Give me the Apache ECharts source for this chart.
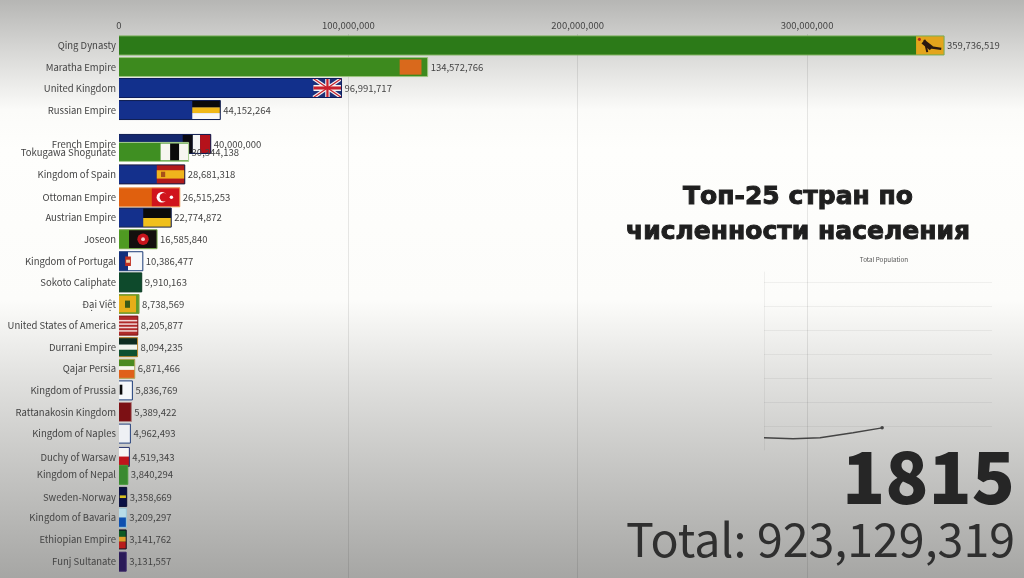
<!DOCTYPE html>
<html><head><meta charset="utf-8">
<style>html,body{margin:0;padding:0;background:#fff}#c{width:1024px;height:578px;filter:blur(0.6px)}</style>
<script src="https://cdn.jsdelivr.net/npm/echarts@6/dist/echarts.min.js"></script>
</head><body><div id="c"></div>
<script>
const names=["French Empire","Qing Dynasty","Maratha Empire","United Kingdom","Russian Empire","Tokugawa Shogunate","Kingdom of Spain","Ottoman Empire","Austrian Empire","Joseon","Kingdom of Portugal","Sokoto Caliphate","Đại Việt","United States of America","Durrani Empire","Qajar Persia","Kingdom of Prussia","Rattanakosin Kingdom","Kingdom of Naples","Duchy of Warsaw","Kingdom of Nepal","Sweden-Norway","Kingdom of Bavaria","Ethiopian Empire","Funj Sultanate"];
const populations=[40000000,359736519,134572766,96991717,44152264,30344138,28681318,26515253,22774872,16585840,10386477,9910163,8738569,8205877,8094235,6871466,5836769,5389422,4962493,4519343,3840294,3358669,3209297,3141762,3131557];
const ranks=[5.59,1.03,2.03,3,4.02,5.96,7,8.06,9,10,11.02,12,13,14,15,16,17,18,19,20.08,20.91,21.93,22.9,23.9,24.93];
const historyYears=[1600,1653,1702,1762,1815];
const historyTotals=[512000000,470000000,508000000,721000000,923129319];
const axisTicks={bar:100000000,history:1000000000};
const yearText="1815", totalText="Total: 923,129,319";

// Bar fill, outline and a simple flag per entry (r = rect, c = circle, l = line, unit coords in the flag box)
const looks={
"French Empire":["#14286e","#0e1c50",[["r","#0a0a12",0,0,.36,1],["r","#f4f4f4",.36,0,.62,1],["r","#b5121b",.62,0,1,1]]],
"Qing Dynasty":["#2c7a18","#78ad58",[["r","#e3a51c",0,0,1,1],["l","#2a1a10",.25,.3,.55,.65,5],["l","#2a1a10",.5,.6,.9,.68,2.5],["l","#2a1a10",.3,.2,.4,.85,2],["c","#b3261a",.12,.18,.08]]],
"Maratha Empire":["#3d8a1e","#9cc57e",[["r","#d9691c",0,.1,.78,.9]]],
"United Kingdom":["#12308c","#0c1c5c",[["r","#1c2f78",0,0,1,1],["l","#f2f2f2",0,0,1,1,3.5],["l","#f2f2f2",0,1,1,0,3.5],["r","#f2f2f2",.42,0,.58,1],["r","#f2f2f2",0,.34,1,.66],["l","#c8202c",0,0,1,1,1.2],["l","#c8202c",0,1,1,0,1.2],["r","#c8202c",.46,0,.54,1],["r","#c8202c",0,.42,1,.58]]],
"Russian Empire":["#14308c","#0e1c50",[["r","#0a0a0a",0,0,1,.36],["r","#f0b818",0,.36,1,.66],["r","#f8f8f8",0,.66,1,1]]],
"Tokugawa Shogunate":["#3f8f22","#a8d090",[["r","#f6f6f0",0,.06,1,.94],["r","#0a0a0a",.34,.06,.66,.94]]],
"Kingdom of Spain":["#14308c","#1c1c40",[["r","#b21a1a",0,0,1,1],["r","#f0b41c",0,.28,1,.72],["r","#a8501a",.15,.36,.3,.64]]],
"Ottoman Empire":["#e0600e","#f0a060",[["r","#d0141c",0,0,1,1],["c","#ffffff",.36,.5,.28],["c","#d0141c",.43,.5,.22],["c","#ffffff",.7,.5,.09]]],
"Austrian Empire":["#14308c","#1c2850",[["r","#0a0a0a",0,0,1,.52],["r","#f0c01c",0,.52,1,1]]],
"Joseon":["#4f9a22","#7caa50",[["r","#14100e",0,.02,1,.98],["c","#c8141c",.5,.5,.3],["c","#f4d0d0",.5,.5,.1]]],
"Kingdom of Portugal":["#f6f8fa","#1c3c78",[["r","#12307c",0,0,.38,1],["r","#f6f8fa",.38,0,1,1],["r","#c03020",.26,.25,.5,.75],["r","#f0d0a0",.3,.42,.46,.58]]],
"Sokoto Caliphate":["#0e4a2c","#0a3a22",[]],
"Đại Việt":["#5f9a2a","#7fa040",[["r","#e6ae18",0,.06,.85,.94],["r","#3a5a18",.3,.32,.55,.7]]],
"United States of America":["#b02a2a","#7c1818",[["r","#b02a2a",0,0,1,1],["r","#f0d8d8",0,.2,1,.28],["r","#f0d8d8",0,.38,1,.46],["r","#f0d8d8",0,.56,1,.64],["r","#f0d8d8",0,.74,1,.82]]],
"Durrani Empire":["#0c3a28","#c08a30",[["r","#0c2c20",0,0,1,.36],["r","#f0f4ee",0,.36,1,.64],["r","#0e5030",0,.64,1,1]]],
"Qajar Persia":["#3a8a2a","#b8a860",[["r","#4a8a20",0,0,1,.36],["r","#f6f6ee",0,.36,1,.56],["r","#e0601a",0,.56,1,1]]],
"Kingdom of Prussia":["#f6f8fa","#1c3c78",[["r","#f6f8fa",0,0,1,1],["r","#0a0a0a",.05,.2,.25,.72]]],
"Rattanakosin Kingdom":["#7c1014","#b08080",[]],
"Kingdom of Naples":["#eef0f4","#24407c",[]],
"Duchy of Warsaw":["#f6f6f6","#24306c",[["r","#f6f6f6",0,0,1,.48],["r","#c0141c",0,.48,1,1]]],
"Kingdom of Nepal":["#3a8a30","#4a9a3c",[]],
"Sweden-Norway":["#0a1044","#080c30",[["r","#d8c020",.1,.42,.9,.56]]],
"Kingdom of Bavaria":["#b8dce8","#9cc8d8",[["r","#0e50b0",0,.48,1,1]]],
"Ethiopian Empire":["#0e3a1c","#141428",[["r","#0e5a24",0,.05,1,.36],["r","#e0a028",0,.36,1,.62],["r","#b81c1c",0,.62,1,1]]],
"Funj Sultanate":["#2a1a58","#3a2868",[]]
};

const BAR_H=19, FLAG_W=28;
const textColor='#444444', font='"Noto Sans CJK JP","Noto Sans",sans-serif';
const fmt=v=>v.toLocaleString('en-US');

function renderBar(params,api){
  const i=params.dataIndex, end=api.coord([api.value(0),api.value(1)]), start=api.coord([0,api.value(1)]);
  const name=names[i], look=looks[name], x0=start[0], x1=end[0], cy=end[1], top=cy-BAR_H/2, w=x1-x0;
  const fw=Math.min(FLAG_W,w), fx=x1-fw;
  const kids=[{type:'rect',shape:{x:x0,y:top,width:w,height:BAR_H},style:{fill:look[0]}}];
  look[2].forEach(s=>{
    if(s[0]==='r')kids.push({type:'rect',shape:{x:fx+s[2]*fw,y:top+s[3]*BAR_H,width:(s[4]-s[2])*fw,height:(s[5]-s[3])*BAR_H},style:{fill:s[1]}});
    else if(s[0]==='c')kids.push({type:'circle',shape:{cx:fx+s[2]*fw,cy:top+s[3]*BAR_H,r:s[4]*BAR_H},style:{fill:s[1]}});
    else kids.push({type:'line',shape:{x1:fx+s[2]*fw,y1:top+s[3]*BAR_H,x2:fx+s[4]*fw,y2:top+s[5]*BAR_H},style:{stroke:s[1],lineWidth:s[6]}});
  });
  kids.push({type:'polyline',shape:{points:[[x0,top],[x1,top],[x1,top+BAR_H],[x0,top+BAR_H]]},style:{fill:'none',stroke:look[1],lineWidth:1}});
  const txt={fill:textColor,fontFamily:font,fontSize:9.5};
  kids.push({type:'text',style:Object.assign({x:x0-3,y:cy,text:name,align:'right',verticalAlign:'middle'},txt)});
  kids.push({type:'text',style:Object.assign({x:x1+3,y:cy,text:fmt(api.value(0)),align:'left',verticalAlign:'middle'},txt)});
  return {type:'group',children:kids};
}

const chart=echarts.init(document.getElementById('c'),null,{renderer:'canvas'});
chart.setOption({
  animation:false,
  backgroundColor:{type:'linear',x:0,y:0,x2:0,y2:1,colorStops:[
    {offset:0,color:'#b6b6b4'},{offset:.09,color:'#d8d8d6'},{offset:.19,color:'#fbfbf9'},{offset:.26,color:'#fefefc'},
    {offset:.52,color:'#fcfcfa'},{offset:.66,color:'#e0e0de'},{offset:.82,color:'#c4c4c2'},{offset:1,color:'#a6a6a4'}]},
  title:[
    {text:'Топ-25 стран по\nчисленности населения',left:793,top:175,textAlign:'center',textStyle:{fontFamily:'"DejaVu Sans"',fontWeight:'bold',fontSize:25,lineHeight:35,color:'#1f1f1f',textBorderColor:'#1f1f1f',textBorderWidth:1}},
    {text:'Total Population',left:879,top:251,textAlign:'center',textStyle:{fontFamily:font,fontSize:6.3,fontWeight:'normal',color:'#555'}},
    {text:yearText,right:9,top:442,padding:0,textStyle:{fontFamily:font,fontWeight:900,fontSize:71,color:'#262626'}},
    {text:totalText,right:9,top:516,padding:0,textStyle:{fontFamily:font,fontWeight:'normal',fontSize:46.5,color:'#2f2f2f'}}
  ],
  grid:[
    {left:119,top:34,width:883,height:544},
    {left:764,top:272,width:228,height:178}
  ],
  xAxis:[
    {gridIndex:0,type:'value',position:'top',min:0,max:385000000,interval:axisTicks.bar,
      axisLine:{show:false},axisTick:{show:false},
      axisLabel:{showMaxLabel:false,color:textColor,fontFamily:font,fontSize:9.5,margin:4,formatter:v=>fmt(v)},
      splitLine:{showMinLine:false,showMaxLine:false,lineStyle:{color:'rgba(0,0,0,0.09)',width:1}}},
    {gridIndex:1,type:'value',min:1600,max:2015,show:false,splitLine:{show:false}}
  ],
  yAxis:[
    {gridIndex:0,type:'value',inverse:true,min:.5,max:25.685,show:false,splitLine:{show:false}},
    {gridIndex:1,type:'value',min:0,max:7417000000,interval:axisTicks.history,
      axisLabel:{show:false},axisTick:{show:false},
      axisLine:{show:true,lineStyle:{color:'rgba(0,0,0,0.05)'}},
      splitLine:{showMinLine:false,showMaxLine:false,lineStyle:{color:'rgba(0,0,0,0.05)'}}}
  ],
  series:[
    {type:'custom',xAxisIndex:0,yAxisIndex:0,renderItem:renderBar,clip:false,encode:{x:0,y:1},
      data:populations.map((v,i)=>[v,ranks[i]])},
    {type:'line',xAxisIndex:1,yAxisIndex:1,data:historyYears.map((y,i)=>[y,historyTotals[i]]),
      showSymbol:false,smooth:false,lineStyle:{color:'#444',width:1.4},
      markPoint:{symbol:'circle',symbolSize:3.5,itemStyle:{color:'#444'},label:{show:false},
        data:[{coord:[historyYears[historyYears.length-1],historyTotals[historyTotals.length-1]]}]}}
  ]
});
</script></body></html>
